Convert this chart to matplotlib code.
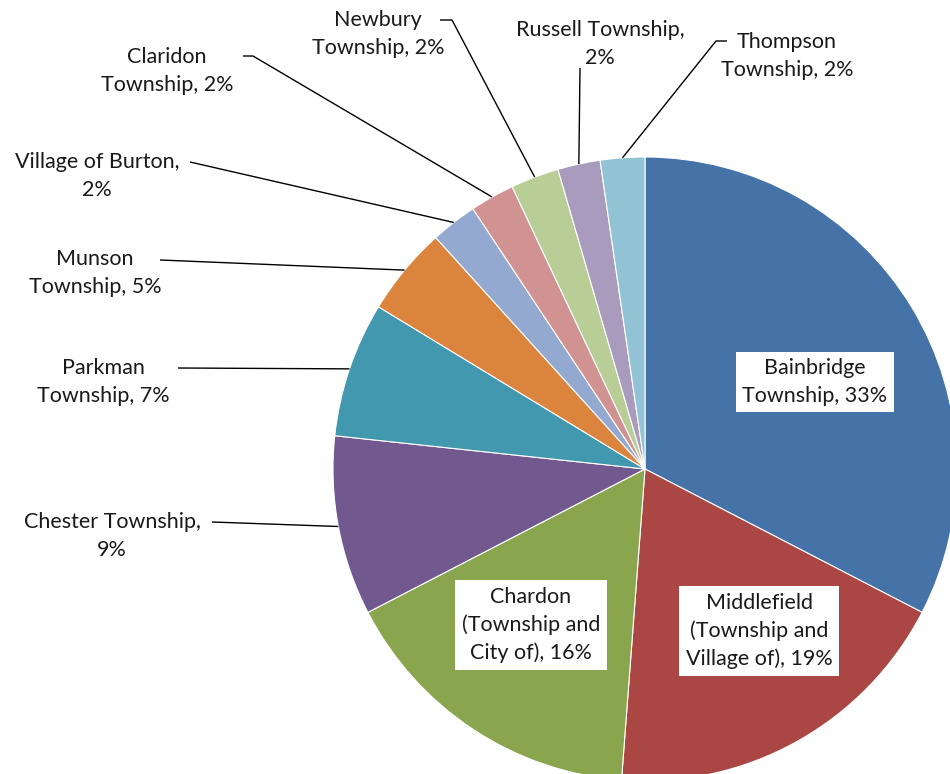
import numpy as np
import matplotlib
matplotlib.use("Agg")
import matplotlib.pyplot as plt

plt.rcParams['font.family'] = ['Lato', 'DejaVu Sans']

names = ["Bainbridge\nTownship", "Middlefield\n(Township and\nVillage of)", "Chardon\n(Township and\nCity of)",
         "Chester Township,\n", "Parkman\nTownship", "Munson\nTownship", "Village of Burton,\n",
         "Claridon\nTownship", "Newbury\nTownship", "Russell Township,\n", "Thompson\nTownship"]
values = [32.6, 18.6, 16.2, 9.3, 7.0, 4.6, 2.4, 2.3, 2.5, 2.2, 2.3]
colors = ["#4572A7", "#AA4643", "#89A54E", "#71588F", "#4198AF", "#DB843D",
          "#93A9CF", "#D19392", "#B9CD96", "#A99BBD", "#92C3D4"]

W, H = 950, 774
fig = plt.figure(figsize=(W / 100, H / 100), dpi=100)
ax = fig.add_axes([0, 0, 1, 1])

cx, cy, R = 645, 469, 312
wedges, _ = ax.pie(values, colors=colors, startangle=-90, counterclock=True,
                   center=(cx, cy), radius=R,
                   wedgeprops=dict(edgecolor="white", linewidth=0.8))
ax.set_xlim(0, W)
ax.set_ylim(H, 0)
ax.set_aspect('equal')
ax.axis('off')

total = sum(values)
def label_text(i):
    n = names[i]
    pct = f"{values[i] / total * 100:.0f}%"
    if n.endswith("\n"):
        return n + pct
    return n + ", " + pct

fs = 15.5
ls = 1.47
# inside labels (boxed)
inside = {0: (815, 382), 1: (759, 631), 2: (531, 625)}
for i, (x, y) in inside.items():
    ax.text(x, y, label_text(i), ha='center', va='center', fontsize=fs, color='#1a1a1a',
            linespacing=ls,
            bbox=dict(boxstyle='square,pad=0.3', fc='white', ec='none'))

# outside labels: text centre, leader start, optional elbow
outside = {
    3: ((112, 536), [(212, 522)]),
    4: ((103, 382), [(178, 368)]),
    5: ((95, 273), [(160, 260)]),
    6: ((97, 176), [(190, 162)]),
    7: ((167, 71), [(243, 56), (253, 56)]),
    8: ((378, 34), [(440, 20), (452, 20)]),
    9: ((600, 44), [(580, 68)]),
    10: ((787, 56), [(727, 41), (716, 41)]),
}
for i, ((tx, ty), pts) in outside.items():
    ax.text(tx, ty, label_text(i), ha='center', va='center', fontsize=fs, color='#1a1a1a',
            linespacing=ls)
    w = wedges[i]
    mid = np.deg2rad((w.theta1 + w.theta2) / 2)
    ex = cx + R * np.cos(mid)
    ey = cy + R * np.sin(mid)
    xs = [p[0] for p in pts] + [ex]
    ys = [p[1] for p in pts] + [ey]
    ax.plot(xs, ys, color='black', linewidth=1.0, solid_capstyle='butt')

fig.savefig("out.png", dpi=100)
